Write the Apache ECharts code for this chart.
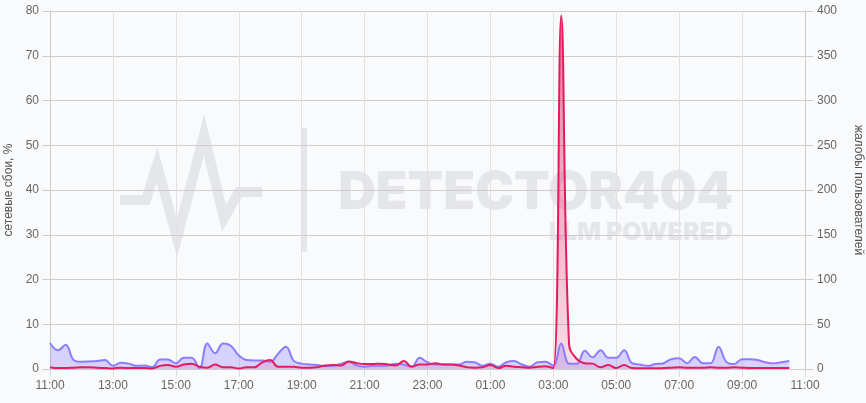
<!DOCTYPE html>
<html>
<head>
<meta charset="utf-8">
<script src="https://cdn.jsdelivr.net/npm/echarts@6/dist/echarts.min.js"></script>
<style>
html,body{margin:0;padding:0;background:#f9fafb;}
#chart{width:866px;height:403px;}
</style>
</head>
<body>
<div id="chart"></div>
<script>
const tickLabels = ['11:00','13:00','15:00','17:00','19:00','21:00','23:00','01:00','03:00','05:00','07:00','09:00','11:00'];

const times = [
'11:00','11:15','11:30','11:45','12:00','12:15','12:30','12:45',
'13:00','13:15','13:30','13:45','14:00','14:15','14:30','14:45',
'15:00','15:15','15:30','15:45','16:00','16:15','16:30','16:45',
'17:00','17:15','17:30','17:45','18:00','18:15','18:30','18:45',
'19:00','19:15','19:30','19:45','20:00','20:15','20:30','20:45',
'21:00','21:15','21:30','21:45','22:00','22:15','22:30','22:45',
'23:00','23:15','23:30','23:45','00:00','00:15','00:30','00:45',
'01:00','01:15','01:30','01:45','02:00','02:15','02:30','02:45',
'03:00','03:15','03:30','03:45','04:00','04:15','04:30','04:45',
'05:00','05:15','05:30','05:45','06:00','06:15','06:30','06:45',
'07:00','07:15','07:30','07:45','08:00','08:15','08:30','08:45',
'09:00','09:15','09:30','09:45','10:00','10:15','10:30'
];

// сетевые сбои, % (left axis)
const networkFailures = [
0.4,0.2,0.2,0.3,0.4,0.4,0.3,0.2,
0.1,0.3,0.2,0.2,0.2,0.1,0.7,0.9,
0.5,1.0,1.2,0.5,0.3,1.0,0.4,0.4,
0.1,0.4,0.4,1.5,2.0,0.5,0.5,0.5,
0.3,0.3,0.4,0.8,0.9,0.8,1.7,1.3,
1.1,1.1,1.2,1.0,0.8,1.8,0.5,1.0,
1.0,1.3,1.0,1.0,0.8,0.4,0.3,0.4,
0.9,0.2,0.7,0.5,0.4,0.3,0.5,0.6,
0.2,79,5.5,2.2,1.3,1.2,0.4,0.9,
0.2,0.9,0.2,0.15,0.15,0.15,0.2,0.3,
0.4,0.3,0.3,0.3,0.4,0.3,0.3,0.4,
0.3,0.2,0.2,0.2,0.2,0.2,0.2
];

// жалобы пользователей (right axis)
const userComplaints = [
29,21,27,10,8,8.5,9,10,
3.5,7,6,3.5,4,2,10.5,10.5,
6.5,12.5,12.5,1,28.5,17.5,28.5,26,
15,10,9.5,9.5,8,17,25,9,
6,5,4.5,3,3.5,6,8,4,
2.5,3.5,3.5,4,6,5,2.5,12.5,
7.5,5,5,5,5,8,7.5,3.5,
6,2.5,7.5,9,5,2.5,7.5,8,
4,28.5,6,6,20.5,13,21,12.5,
12.5,21,6.5,5,3.5,5.5,6.5,11,
12,6.5,13.5,6.5,6.5,25,8,5.5,
11,11,10,7.5,6.3,7.5,9
];

function toHours(t){
  const p = t.split(':').map(Number);
  return ((p[0] - 11 + 24) % 24) + p[1] / 60;
}

const redData = times.map((t,i)=>[toHours(t), networkFailures[i]]);
const purpleData = times.map((t,i)=>[toHours(t), userComplaints[i]]);

const chart = echarts.init(document.getElementById('chart'), null, {renderer:'canvas'});
const wm = '#e4e6ea';
const labelColor = '#666';
const font = 'Liberation Sans, Arial, sans-serif';

chart.setOption({
  backgroundColor: '#f9fafb',
  animation: false,
  grid: {left: 50, right: 61, top: 11, bottom: 34, containLabel: false, outerBoundsMode: 'none'},
  graphic: [
    {type:'polyline', z:-10, silent:true,
     shape:{points:[[120,200],[146,200],[157,165],[177,238],[204,135],[224,218],[239,192],[262,192]]},
     style:{stroke:wm, lineWidth:10, fill:null, lineJoin:'miter'}},
    {type:'rect', z:-10, silent:true, shape:{x:302, y:128, width:5, height:124}, style:{fill:wm}},
    {type:'text', z:-10, silent:true, style:{x:733, y:193, text:'DETECTOR404', align:'right', verticalAlign:'middle', fill:wm, font:'900 52px Inter'}},
    {type:'text', z:-10, silent:true, style:{x:733, y:232, text:'LLM POWERED', align:'right', verticalAlign:'middle', fill:wm, font:'900 25px Inter'}}
  ],
  xAxis: {
    type:'value', min:0, max:24, interval:2,
    axisLine:{show:true, lineStyle:{color:'#cccccc'}},
    axisTick:{show:true, length:8, lineStyle:{color:'#dddddd'}},
    splitLine:{show:true, lineStyle:{color:'#e2e2e2'}},
    axisLabel:{color:labelColor, fontSize:12, fontFamily:font, margin:11,
      formatter: v => tickLabels[Math.round(v/2)]}
  },
  yAxis: [
    {type:'value', min:0, max:80, interval:10, position:'left',
     name:'сетевые сбои, %', nameLocation:'middle', nameGap:30,
     nameTextStyle:{color:'#555', fontSize:12, fontFamily:font},
     axisLine:{show:true, lineStyle:{color:'#cccccc'}},
     axisTick:{show:true, length:8, lineStyle:{color:'#cccccc'}},
     splitLine:{show:true, lineStyle:{color:'#cdcdcd'}},
     axisLabel:{color:labelColor, fontSize:12, fontFamily:font, margin:11}},
    {type:'value', min:0, max:400, interval:50, position:'right',
     name:'жалобы пользователей', nameLocation:'middle', nameGap:47, nameRotate:-90,
     nameTextStyle:{color:'#555', fontSize:12, fontFamily:font},
     axisLine:{show:true, lineStyle:{color:'#cccccc'}},
     axisTick:{show:true, length:8, lineStyle:{color:'#cccccc'}},
     splitLine:{show:false},
     axisLabel:{color:labelColor, fontSize:12, fontFamily:font, margin:12}}
  ],
  series: [
    {name:'жалобы пользователей', type:'line', yAxisIndex:1, data:purpleData,
     smooth:0.4, symbol:'none',
     lineStyle:{color:'#8c7dff', width:2},
     itemStyle:{color:'#8c7dff'},
     areaStyle:{color:'rgba(140,125,255,0.45)'}},
    {name:'сетевые сбои, %', type:'line', yAxisIndex:0, data:redData,
     smooth:0.4, symbol:'none',
     lineStyle:{color:'#e31b5f', width:2},
     itemStyle:{color:'#e31b5f'},
     areaStyle:{color:new echarts.graphic.LinearGradient(0,0,0,1,[
       {offset:0, color:'rgba(227,27,95,0.8)'},
       {offset:1, color:'rgba(227,27,95,0.18)'}])}}
  ]
});
</script>
</body>
</html>
